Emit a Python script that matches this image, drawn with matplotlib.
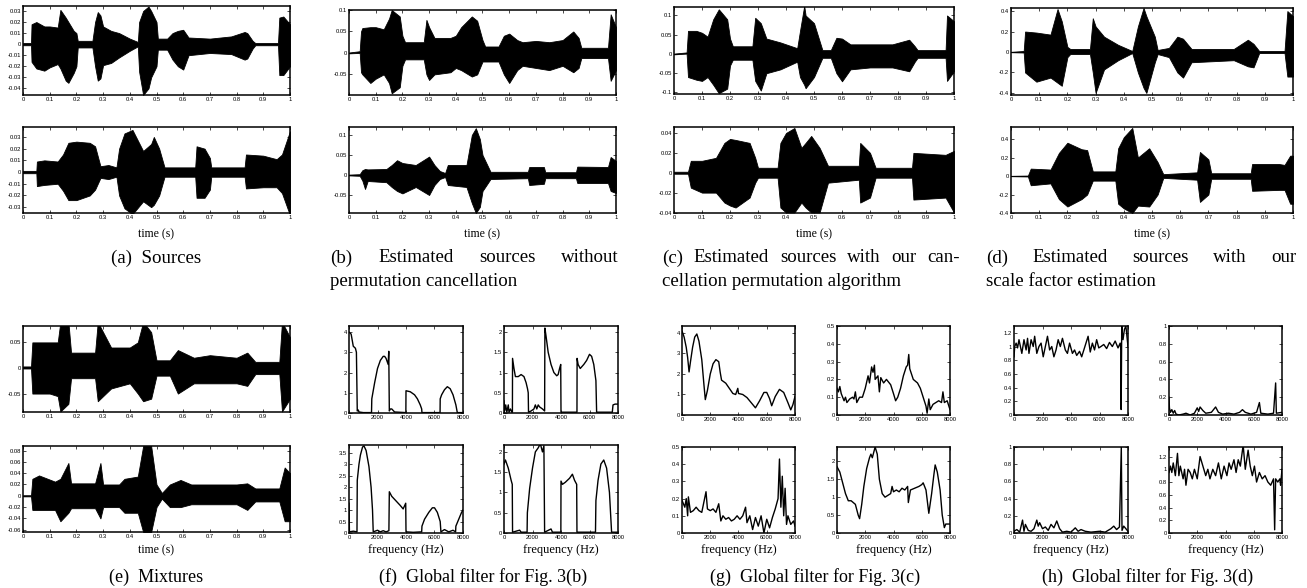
import numpy as np
import matplotlib
matplotlib.use("Agg")
import matplotlib.pyplot as plt

plt.rcParams['font.family'] = ['Liberation Sans', 'DejaVu Sans']
plt.rcParams['axes.unicode_minus'] = False

W, H = 1307, 588

# ---------------- data: waveform envelopes (time, upper, lower) ----------------
A1_ENV = [(0.00, 0.001, -0.001), (0.03, 0.001, -0.001), (0.032, 0.018, -0.016), (0.05, 0.020, -0.022),
          (0.08, 0.016, -0.024), (0.10, 0.016, -0.021), (0.13, 0.015, -0.018), (0.14, 0.031, -0.022),
          (0.16, 0.024, -0.033), (0.17, 0.020, -0.035), (0.19, 0.012, -0.026), (0.20, 0.010, -0.020),
          (0.205, 0.003, -0.003), (0.26, 0.003, -0.003), (0.27, 0.020, -0.020), (0.28, 0.029, -0.033),
          (0.29, 0.026, -0.031), (0.30, 0.016, -0.019), (0.33, 0.012, -0.017), (0.36, 0.010, -0.012),
          (0.40, 0.005, -0.006), (0.43, 0.002, -0.002), (0.435, 0.020, -0.025), (0.45, 0.030, -0.046),
          (0.47, 0.034, -0.040), (0.48, 0.030, -0.030), (0.50, 0.020, -0.020), (0.505, 0.005, -0.005),
          (0.54, 0.005, -0.005), (0.56, 0.010, -0.014), (0.58, 0.012, -0.020), (0.60, 0.013, -0.023),
          (0.62, 0.006, -0.010), (0.70, 0.005, -0.008), (0.78, 0.007, -0.009), (0.83, 0.011, -0.014),
          (0.84, 0.010, -0.013), (0.86, 0.003, -0.004), (0.87, 0.001, -0.001), (0.955, 0.001, -0.001),
          (0.96, 0.024, -0.028), (0.975, 0.025, -0.028), (1.00, 0.018, -0.020)]
A2_ENV = [(0, 0.001, -0.001), (0.05, 0.001, -0.001), (0.052, 0.009, -0.012), (0.08, 0.010, -0.011),
          (0.13, 0.009, -0.010), (0.15, 0.015, -0.016), (0.17, 0.025, -0.024), (0.20, 0.026, -0.024),
          (0.25, 0.025, -0.020), (0.27, 0.022, -0.015), (0.29, 0.005, -0.005), (0.32, 0.006, -0.006),
          (0.35, 0.004, -0.004), (0.36, 0.020, -0.020), (0.38, 0.033, -0.031), (0.41, 0.036, -0.036),
          (0.45, 0.018, -0.025), (0.48, 0.024, -0.030), (0.49, 0.030, -0.028), (0.51, 0.020, -0.020),
          (0.53, 0.004, -0.004), (0.645, 0.004, -0.004), (0.65, 0.022, -0.022), (0.68, 0.020, -0.022),
          (0.70, 0.012, -0.015), (0.705, 0.004, -0.004), (0.83, 0.004, -0.004), (0.835, 0.015, -0.014),
          (0.90, 0.014, -0.013), (0.95, 0.011, -0.013), (0.97, 0.015, -0.018), (1.00, 0.035, -0.037)]
B1_ENV = [(0, 0.001, -0.001), (0.04, 0.004, 0.000), (0.045, 0.05, -0.045), (0.05, 0.058, -0.05),
          (0.08, 0.06, -0.07), (0.10, 0.06, -0.06), (0.13, 0.055, -0.05), (0.15, 0.08, -0.07),
          (0.16, 0.10, -0.094), (0.19, 0.085, -0.08), (0.20, 0.04, -0.03), (0.21, 0.025, -0.015),
          (0.28, 0.025, -0.015), (0.29, 0.077, -0.05), (0.30, 0.06, -0.063), (0.32, 0.035, -0.05),
          (0.38, 0.035, -0.045), (0.40, 0.04, -0.035), (0.42, 0.06, -0.04), (0.46, 0.085, -0.055),
          (0.48, 0.075, -0.05), (0.50, 0.03, -0.02), (0.51, 0.015, -0.02), (0.56, 0.015, -0.02),
          (0.58, 0.04, -0.05), (0.60, 0.045, -0.07), (0.63, 0.03, -0.04), (0.65, 0.025, -0.03),
          (0.70, 0.028, -0.035), (0.75, 0.025, -0.04), (0.80, 0.03, -0.03), (0.84, 0.05, -0.045),
          (0.86, 0.035, -0.035), (0.87, 0.012, -0.012), (0.97, 0.012, -0.012), (0.98, 0.09, -0.065),
          (1.00, 0.06, -0.04)]
B2_ENV = [(0, 0.001, -0.001), (0.04, 0.002, -0.002), (0.05, 0.012, -0.014), (0.06, 0.015, -0.035),
          (0.07, 0.014, -0.015), (0.14, 0.015, -0.018), (0.16, 0.025, -0.03), (0.18, 0.037, -0.04),
          (0.20, 0.03, -0.046), (0.25, 0.025, -0.03), (0.30, 0.046, -0.05), (0.32, 0.025, -0.025),
          (0.34, 0.01, -0.01), (0.36, 0.005, -0.005), (0.37, 0.025, -0.025), (0.44, 0.025, -0.03),
          (0.46, 0.10, -0.07), (0.475, 0.117, -0.095), (0.49, 0.09, -0.08), (0.50, 0.05, -0.04),
          (0.53, 0.008, -0.01), (0.67, 0.008, -0.008), (0.675, 0.02, -0.025), (0.73, 0.02, -0.022),
          (0.735, 0.007, -0.008), (0.85, 0.007, -0.008), (0.855, 0.021, -0.02), (0.97, 0.02, -0.02),
          (0.98, 0.045, -0.04), (1.00, 0.035, -0.045)]
C1_ENV = [(0, 0.001, -0.001), (0.045, 0.004, 0.001), (0.05, 0.06, -0.06), (0.08, 0.06, -0.067),
          (0.10, 0.055, -0.07), (0.12, 0.045, -0.06), (0.14, 0.09, -0.08), (0.16, 0.116, -0.102),
          (0.19, 0.09, -0.09), (0.20, 0.04, -0.03), (0.21, 0.02, -0.015), (0.28, 0.02, -0.015),
          (0.29, 0.094, -0.07), (0.31, 0.08, -0.095), (0.33, 0.04, -0.05), (0.38, 0.03, -0.04),
          (0.44, 0.015, -0.02), (0.45, 0.06, -0.06), (0.465, 0.125, -0.08), (0.47, 0.10, -0.089),
          (0.50, 0.08, -0.06), (0.53, 0.01, -0.01), (0.56, 0.01, -0.01), (0.58, 0.042, -0.05),
          (0.60, 0.04, -0.071), (0.63, 0.025, -0.04), (0.70, 0.025, -0.035), (0.78, 0.025, -0.035),
          (0.84, 0.037, -0.045), (0.86, 0.02, -0.02), (0.87, 0.01, -0.01), (0.97, 0.01, -0.01),
          (0.975, 0.1, -0.07), (1.00, 0.085, -0.045)]
C2_ENV = [(0, 0.001, -0.001), (0.05, 0.001, -0.001), (0.06, 0.012, -0.015), (0.10, 0.012, -0.02),
          (0.15, 0.015, -0.02), (0.18, 0.03, -0.03), (0.20, 0.034, -0.033), (0.22, 0.033, -0.035),
          (0.27, 0.03, -0.025), (0.29, 0.015, -0.01), (0.30, 0.005, -0.005), (0.37, 0.005, -0.005),
          (0.38, 0.03, -0.035), (0.40, 0.04, -0.04), (0.43, 0.045, -0.04), (0.455, 0.025, -0.03),
          (0.47, 0.03, -0.035), (0.49, 0.037, -0.04), (0.52, 0.025, -0.04), (0.55, 0.007, -0.01),
          (0.66, 0.007, -0.007), (0.665, 0.03, -0.03), (0.70, 0.02, -0.025), (0.72, 0.005, -0.005),
          (0.85, 0.005, -0.005), (0.855, 0.02, -0.027), (0.97, 0.018, -0.025), (1.00, 0.022, -0.04)]
D1_ENV = [(0, 0.002, -0.002), (0.045, 0.01, -0.005), (0.05, 0.2, -0.2), (0.09, 0.19, -0.29),
          (0.14, 0.17, -0.25), (0.165, 0.42, -0.3), (0.18, 0.3, -0.33), (0.20, 0.05, -0.05),
          (0.21, 0.03, -0.02), (0.28, 0.03, -0.02), (0.29, 0.33, -0.2), (0.30, 0.25, -0.4),
          (0.33, 0.15, -0.17), (0.38, 0.07, -0.08), (0.43, 0.01, -0.01), (0.45, 0.25, -0.2),
          (0.47, 0.43, -0.35), (0.48, 0.35, -0.4), (0.51, 0.15, -0.1), (0.52, 0.02, -0.02),
          (0.56, 0.04, -0.05), (0.59, 0.15, -0.2), (0.61, 0.13, -0.25), (0.64, 0.03, -0.1),
          (0.79, 0.03, -0.08), (0.84, 0.12, -0.14), (0.86, 0.08, -0.15), (0.88, 0.01, -0.01),
          (0.97, 0.01, -0.01), (0.98, 0.4, -0.24), (1.00, 0.35, -0.24)]
D2_ENV = [(0, 0.002, -0.002), (0.06, 0.005, -0.005), (0.07, 0.08, -0.1), (0.14, 0.07, -0.08),
          (0.17, 0.25, -0.25), (0.20, 0.36, -0.33), (0.25, 0.29, -0.25), (0.27, 0.28, -0.2),
          (0.29, 0.05, -0.05), (0.37, 0.05, -0.05), (0.38, 0.3, -0.3), (0.40, 0.42, -0.35),
          (0.43, 0.52, -0.4), (0.45, 0.2, -0.32), (0.49, 0.3, -0.33), (0.52, 0.15, -0.2),
          (0.54, 0.02, -0.02), (0.66, 0.04, -0.04), (0.67, 0.26, -0.28), (0.70, 0.18, -0.2),
          (0.71, 0.03, -0.03), (0.85, 0.03, -0.03), (0.855, 0.13, -0.16), (0.95, 0.13, -0.15),
          (0.97, 0.12, -0.15), (0.99, 0.22, -0.3), (1.00, 0.22, -0.3)]
E1_ENV = [(0, 0.003, -0.001), (0.03, 0.003, -0.001), (0.035, 0.05, -0.05), (0.10, 0.05, -0.05),
          (0.13, 0.05, -0.055), (0.14, 0.09, -0.085), (0.17, 0.09, -0.07), (0.18, 0.03, -0.02),
          (0.27, 0.03, -0.02), (0.28, 0.09, -0.065), (0.31, 0.06, -0.05), (0.33, 0.04, -0.04),
          (0.40, 0.04, -0.03), (0.43, 0.05, -0.05), (0.45, 0.09, -0.065), (0.48, 0.07, -0.06),
          (0.50, 0.015, -0.015), (0.55, 0.015, -0.015), (0.58, 0.035, -0.05), (0.64, 0.02, -0.03),
          (0.70, 0.025, -0.03), (0.80, 0.02, -0.03), (0.84, 0.03, -0.035), (0.87, 0.012, -0.012),
          (0.96, 0.012, -0.012), (0.97, 0.09, -0.085), (1.00, 0.06, -0.06)]
E2_ENV = [(0, 0.001, -0.001), (0.03, 0.001, -0.001), (0.035, 0.03, -0.025), (0.06, 0.036, -0.025),
          (0.12, 0.025, -0.025), (0.14, 0.03, -0.045), (0.17, 0.058, -0.03), (0.18, 0.022, -0.022),
          (0.27, 0.022, -0.022), (0.29, 0.058, -0.04), (0.30, 0.02, -0.02), (0.36, 0.02, -0.02),
          (0.38, 0.03, -0.03), (0.43, 0.034, -0.03), (0.45, 0.088, -0.064), (0.48, 0.088, -0.064),
          (0.50, 0.02, -0.02), (0.52, 0.005, -0.005), (0.55, 0.02, -0.02), (0.59, 0.028, -0.02),
          (0.63, 0.02, -0.015), (0.80, 0.02, -0.015), (0.84, 0.022, -0.025), (0.87, 0.013, -0.01),
          (0.96, 0.013, -0.01), (0.98, 0.05, -0.045), (1.00, 0.04, -0.045)]

# ---------------- data: global filter magnitudes (frequency Hz, value) ----------------
F1 = [(0, 4.0), (150, 3.9), (300, 3.3), (450, 3.2), (520, 3.0), (580, 0.1), (650, 0.15), (700, 0.05),
      (1000, 0.02), (1580, 0.02), (1600, 0.7), (1800, 1.5), (2000, 2.2), (2200, 2.6), (2400, 2.8),
      (2500, 2.8), (2600, 2.7), (2750, 2.4), (2790, 3.05), (2830, 0.1), (2900, 0.2), (3000, 0.2),
      (3200, 0.05), (3990, 0.02), (4000, 1.1), (4300, 1.05), (4600, 0.9), (4800, 0.7), (5000, 0.4),
      (5100, 0.2), (5120, 0.02), (6390, 0.02), (6400, 0.7), (6500, 0.9), (6700, 1.15), (6900, 1.3),
      (7100, 1.2), (7300, 0.9), (7500, 0.4), (7600, 0.02), (8000, 0.02)]
F2 = [(0, 0.3), (50, 0.05), (120, 0.2), (200, 0.02), (300, 0.2), (350, 0.02), (450, 0.1), (550, 0.02),
      (590, 0.02), (600, 1.35), (700, 1.1), (800, 0.9), (1000, 0.9), (1200, 0.95), (1400, 0.9),
      (1550, 0.75), (1650, 0.6), (1700, 0.5), (1720, 0.02), (1900, 0.05), (2100, 0.1), (2200, 0.2),
      (2300, 0.1), (2400, 0.2), (2500, 0.15), (2700, 0.1), (2850, 0.05), (2870, 2.1), (2950, 1.9),
      (3100, 1.5), (3300, 1.2), (3500, 1.0), (3700, 0.92), (3800, 0.95), (3900, 1.1), (3980, 1.2),
      (4000, 0.02), (5120, 0.02), (5130, 1.35), (5200, 1.2), (5350, 1.1), (5600, 1.2), (5800, 1.3),
      (6000, 1.45), (6150, 1.4), (6300, 1.2), (6450, 0.8), (6500, 0.02), (7600, 0.02), (7650, 0.2),
      (7800, 0.22), (8000, 0.22)]
F3 = [(0, 1.3), (30, 0.05), (300, 0.08), (560, 0.05), (580, 2.3), (700, 3.0), (800, 3.4), (950, 3.75),
      (1050, 3.8), (1200, 3.6), (1400, 2.9), (1550, 2.0), (1650, 1.0), (1700, 0.05), (2000, 0.12),
      (2200, 0.05), (2400, 0.1), (2600, 0.05), (2800, 0.1), (2830, 1.8), (3000, 1.6), (3300, 1.4),
      (3600, 1.2), (3800, 1.05), (3980, 1.3), (4000, 0.05), (4500, 0.03), (5100, 0.05), (5120, 0.3),
      (5300, 0.6), (5600, 0.9), (5850, 1.1), (6000, 1.1), (6200, 0.9), (6400, 0.5), (6450, 0.05),
      (6700, 0.15), (7000, 0.05), (7300, 0.12), (7480, 0.05), (7500, 0.3), (7700, 0.6), (7900, 0.9),
      (8000, 1.0)]
F4 = [(0, 1.7), (100, 1.8), (300, 1.6), (500, 1.3), (580, 1.2), (600, 0.02), (1100, 0.07), (1200, 0.02),
      (1620, 0.02), (1640, 0.5), (1800, 1.1), (2000, 1.6), (2200, 2.0), (2400, 2.1), (2550, 2.2),
      (2700, 2.0), (2800, 2.15), (2850, 0.02), (3300, 0.1), (3400, 0.02), (3990, 0.02), (4000, 1.28),
      (4100, 1.2), (4300, 1.25), (4600, 1.35), (4800, 1.45), (4950, 1.3), (5100, 1.2), (5120, 0.02),
      (6420, 0.02), (6450, 0.8), (6600, 1.3), (6800, 1.7), (7000, 1.8), (7200, 1.6), (7400, 1.0),
      (7550, 0.02), (8000, 0.02)]
G1 = [(0, 4.1), (150, 3.8), (300, 3.3), (400, 2.8), (500, 2.1), (600, 2.6), (750, 3.3), (900, 3.8),
      (1050, 3.95), (1200, 3.6), (1400, 2.7), (1550, 1.5), (1650, 0.75), (1800, 1.2), (2000, 2.0),
      (2200, 2.5), (2400, 2.7), (2600, 2.6), (2700, 2.1), (2800, 1.7), (3100, 1.55), (3300, 1.35),
      (3600, 1.05), (3800, 1.0), (3950, 1.3), (4000, 1.05), (4300, 1.0), (4600, 0.85), (4900, 0.6),
      (5200, 0.35), (5500, 0.7), (5800, 1.1), (6000, 1.1), (6200, 0.8), (6350, 0.45), (6600, 0.9),
      (6900, 1.25), (7200, 1.1), (7500, 0.6), (7700, 0.25), (7850, 0.5), (8000, 0.9)]
G2 = [(0, 0.15), (100, 0.13), (200, 0.16), (300, 0.12), (500, 0.08), (600, 0.1), (700, 0.07), (900, 0.09),
      (1100, 0.1), (1200, 0.09), (1300, 0.13), (1400, 0.07), (1600, 0.1), (1800, 0.1), (2000, 0.15),
      (2200, 0.22), (2300, 0.18), (2450, 0.27), (2550, 0.24), (2650, 0.28), (2700, 0.2), (2900, 0.22),
      (3000, 0.13), (3100, 0.21), (3300, 0.18), (3500, 0.2), (3800, 0.17), (4000, 0.12), (4150, 0.08),
      (4300, 0.1), (4500, 0.15), (4700, 0.22), (4900, 0.27), (5000, 0.28), (5080, 0.34), (5150, 0.26),
      (5400, 0.2), (5700, 0.18), (5900, 0.15), (6100, 0.1), (6300, 0.05), (6380, 0.01), (6500, 0.09),
      (6600, 0.03), (6800, 0.06), (7000, 0.07), (7200, 0.08), (7400, 0.07), (7500, 0.13), (7600, 0.07),
      (7800, 0.08), (8000, 0.03)]
G3 = [(0, 0.19), (100, 0.17), (200, 0.15), (300, 0.2), (400, 0.1), (450, 0.21), (600, 0.12), (800, 0.13),
      (1000, 0.15), (1200, 0.13), (1400, 0.12), (1700, 0.24), (1800, 0.14), (2000, 0.13), (2200, 0.14),
      (2400, 0.12), (2600, 0.17), (2750, 0.07), (2900, 0.1), (3100, 0.08), (3300, 0.09), (3500, 0.07),
      (3700, 0.08), (3900, 0.1), (4100, 0.08), (4300, 0.1), (4500, 0.15), (4600, 0.06), (4800, 0.1),
      (5000, 0.02), (5200, 0.09), (5400, 0.04), (5600, 0.1), (5800, 0.0), (6000, 0.08), (6200, 0.03),
      (6400, 0.09), (6600, 0.14), (6800, 0.2), (6900, 0.43), (7000, 0.15), (7100, 0.33), (7200, 0.1),
      (7300, 0.26), (7400, 0.05), (7500, 0.1), (7700, 0.05), (7900, 0.07), (8000, 0.04)]
G4 = [(0, 1.85), (200, 1.7), (400, 1.4), (600, 1.1), (800, 0.9), (1000, 0.9), (1300, 0.8), (1500, 0.5),
      (1600, 0.4), (1750, 0.8), (1900, 1.3), (2100, 1.8), (2300, 2.1), (2400, 2.2), (2500, 2.1),
      (2700, 2.4), (2850, 2.2), (3000, 1.5), (3200, 1.1), (3400, 1.0), (3600, 1.05), (3800, 1.1),
      (3900, 1.3), (4000, 1.15), (4200, 1.2), (4400, 1.15), (4600, 1.25), (4800, 1.2), (5000, 1.3),
      (5050, 0.85), (5200, 1.2), (5500, 1.25), (5800, 1.3), (6000, 1.35), (6100, 1.4), (6300, 1.2),
      (6500, 0.55), (6700, 1.1), (6850, 1.6), (6950, 1.9), (7100, 1.7), (7300, 1.2), (7450, 0.5),
      (7600, 0.15), (7700, 0.25), (8000, 0.25)]
H1 = [(0, 0.85), (50, 1.0), (150, 1.05), (250, 0.98), (350, 1.1), (450, 1.0), (550, 0.9), (700, 1.1),
      (850, 0.95), (950, 1.12), (1050, 0.9), (1200, 1.1), (1350, 1.0), (1450, 1.15), (1600, 0.9),
      (1750, 1.0), (1900, 1.05), (2050, 0.85), (2200, 1.0), (2350, 1.15), (2500, 0.95), (2650, 1.0),
      (2800, 0.85), (2950, 0.95), (3100, 1.1), (3250, 1.0), (3400, 1.12), (3600, 0.95), (3750, 0.9),
      (3900, 1.05), (4100, 0.9), (4250, 0.95), (4400, 0.87), (4600, 0.93), (4750, 0.85), (4900, 0.95),
      (5050, 1.05), (5200, 1.15), (5350, 0.92), (5500, 1.05), (5650, 0.95), (5800, 1.1), (5950, 0.98),
      (6100, 1.0), (6300, 1.03), (6500, 0.97), (6700, 1.06), (6900, 1.0), (7100, 1.08), (7300, 0.98),
      (7450, 1.05), (7500, 0.95), (7520, 0.08), (7560, 1.3), (7650, 1.1), (7750, 1.25), (7850, 1.3),
      (8000, 1.0)]
H2 = [(0, 0.2), (30, 0.08), (100, 0.03), (200, 0.06), (300, 0.02), (400, 0.05), (500, 0.01), (700, 0.0),
      (1000, 0.01), (1200, 0.02), (1500, 0.0), (1800, 0.02), (2000, 0.08), (2100, 0.04), (2200, 0.09),
      (2400, 0.05), (2600, 0.02), (3000, 0.03), (3300, 0.09), (3500, 0.03), (3800, 0.01), (4200, 0.02),
      (4600, 0.01), (5000, 0.03), (5200, 0.06), (5400, 0.03), (5800, 0.01), (6200, 0.03), (6400, 0.14),
      (6500, 0.02), (7000, 0.01), (7400, 0.02), (7550, 0.36), (7600, 0.02), (8000, 0.03)]
H3 = [(0, 0.02), (200, 0.04), (400, 0.01), (600, 0.15), (700, 0.02), (800, 0.1), (1000, 0.03),
      (1200, 0.02), (1400, 0.05), (1600, 0.15), (1700, 0.08), (1800, 0.12), (2000, 0.05), (2200, 0.07),
      (2400, 0.03), (2600, 0.1), (2800, 0.06), (3000, 0.14), (3200, 0.05), (3400, 0.01), (3700, 0.02),
      (4000, 0.01), (4300, 0.06), (4500, 0.02), (4700, 0.04), (5000, 0.02), (5400, 0.01), (6000, 0.02),
      (6400, 0.01), (6800, 0.05), (7000, 0.08), (7200, 0.04), (7400, 0.07), (7530, 1.0), (7580, 0.03),
      (7700, 0.08), (8000, 0.02)]
H4 = [(0, 0.95), (100, 1.05), (200, 0.95), (300, 1.1), (450, 0.9), (600, 1.25), (700, 0.9), (800, 1.05),
      (1000, 0.85), (1100, 1.0), (1200, 0.75), (1350, 1.0), (1500, 0.95), (1650, 0.85), (1800, 1.0),
      (2000, 0.85), (2200, 1.2), (2400, 1.05), (2600, 0.9), (2750, 1.0), (2900, 0.85), (3100, 1.0),
      (3300, 0.9), (3500, 1.1), (3700, 0.85), (3900, 1.05), (4100, 0.9), (4250, 1.1), (4400, 1.0),
      (4600, 1.15), (4750, 0.95), (4900, 1.15), (5050, 1.05), (5250, 1.38), (5400, 1.0), (5600, 1.3),
      (5750, 1.05), (5900, 0.9), (6050, 1.05), (6200, 0.8), (6400, 0.95), (6600, 0.85), (6800, 0.9),
      (7000, 0.8), (7200, 0.75), (7400, 0.85), (7480, 0.05), (7550, 0.85), (7700, 0.8), (7850, 0.85),
      (7900, 0.75), (8000, 1.0)]

TIME_TICKS = [0, 0.1, 0.2, 0.3, 0.4, 0.5, 0.6, 0.7, 0.8, 0.9, 1]
TIME_LABELS = ['0', '0.1', '0.2', '0.3', '0.4', '0.5', '0.6', '0.7', '0.8', '0.9', '1']
FREQ_TICKS = [0, 2000, 4000, 6000, 8000]

CAPTIONS_TOP = [
    ("(a)  Sources", None),
    ("(b) Estimated sources without", "permutation cancellation"),
    ("(c) Estimated sources with our can-", "cellation permutation algorithm"),
    ("(d) Estimated sources with our", "scale factor estimation"),
]
CAPTIONS_BOTTOM = ["(e)  Mixtures", "(f)  Global filter for Fig. 3(b)",
                   "(g)  Global filter for Fig. 3(c)", "(h)  Global filter for Fig. 3(d)"]

fig = plt.figure(figsize=(W / 100, H / 100), dpi=100)
SERIF = ['Liberation Serif', 'DejaVu Serif']


def ax_px(l, t, r, b):
    return fig.add_axes([l / W, 1 - b / H, (r - l) / W, (b - t) / H])


def style(ax):
    for s in ax.spines.values():
        s.set_linewidth(1.1)
    ax.tick_params(direction='in', length=2.0, width=0.5, top=True, right=True,
                   labelsize=4.2, pad=1.5)


def wave(box, env, ylim, yticks, ylabels):
    ax = ax_px(*box)
    t = [p[0] for p in env]
    up = [p[1] for p in env]
    lo = [p[2] for p in env]
    ax.fill_between(t, lo, up, color='black', linewidth=0.6, edgecolor='black')
    ax.set_xlim(0, 1)
    ax.set_ylim(*ylim)
    ax.set_xticks(TIME_TICKS)
    ax.set_xticklabels(TIME_LABELS)
    ax.set_yticks(yticks)
    ax.set_yticklabels(ylabels)
    style(ax)
    return ax


def filt(box, data, ylim, yticks, ylabels):
    ax = ax_px(*box)
    ax.plot([p[0] for p in data], [p[1] for p in data], color='black', lw=1.0)
    ax.set_xlim(0, 8000)
    ax.set_ylim(*ylim)
    ax.set_xticks(FREQ_TICKS)
    ax.set_xticklabels([str(v) for v in FREQ_TICKS])
    ax.set_yticks(yticks)
    ax.set_yticklabels(ylabels)
    style(ax)
    return ax


def fmt(vals):
    return [('%g' % v) for v in vals]

# ---- top row ----
t1 = [-0.04, -0.03, -0.02, -0.01, 0, 0.01, 0.02, 0.03]
wave((23, 6, 290, 95), A1_ENV, (-0.046, 0.0345), t1, fmt(t1))
t2 = [-0.03, -0.02, -0.01, 0, 0.01, 0.02, 0.03]
wave((23, 127, 290, 213), A2_ENV, (-0.035, 0.0385), t2, fmt(t2))
t3 = [-0.05, 0, 0.05, 0.1]
wave((349, 10, 616, 95), B1_ENV, (-0.098, 0.1), t3, fmt(t3))
wave((349, 127, 616, 213), B2_ENV, (-0.095, 0.12), t3, fmt(t3))
t4 = [-0.1, -0.05, 0, 0.05, 0.1]
wave((674, 7, 954, 94), C1_ENV, (-0.104, 0.122), t4, fmt(t4))
t5 = [-0.04, -0.02, 0, 0.02, 0.04]
wave((674, 127, 954, 213), C2_ENV, (-0.0405, 0.046), t5, fmt(t5))
t6 = [-0.4, -0.2, 0, 0.2, 0.4]
wave((1011, 8, 1293, 95), D1_ENV, (-0.42, 0.43), t6, fmt(t6))
wave((1011, 127, 1293, 213), D2_ENV, (-0.4, 0.53), t6, fmt(t6))

# ---- bottom row ----
t7 = [-0.05, 0, 0.05]
wave((23, 326, 290, 412), E1_ENV, (-0.086, 0.082), t7, fmt(t7))
t8 = [-0.06, -0.04, -0.02, 0, 0.02, 0.04, 0.06, 0.08]
wave((23, 446, 290, 532), E2_ENV, (-0.064, 0.088), t8, fmt(t8))

filt((349, 326, 463, 413), F1, (0, 4.3), [0, 1, 2, 3, 4], fmt([0, 1, 2, 3, 4]))
filt((504, 326, 618, 413), F2, (0, 2.15), [0, 0.5, 1, 1.5, 2], fmt([0, 0.5, 1, 1.5, 2]))
y = [0, 0.5, 1, 1.5, 2, 2.5, 3, 3.5]
filt((349, 445, 463, 533), F3, (0, 3.84), y, fmt(y))
filt((504, 445, 618, 533), F4, (0, 2.17), [0, 0.5, 1, 1.5, 2], fmt([0, 0.5, 1, 1.5, 2]))

filt((682, 326, 795, 415), G1, (0, 4.34), [0, 1, 2, 3, 4], fmt([0, 1, 2, 3, 4]))
y = [0, 0.1, 0.2, 0.3, 0.4, 0.5]
filt((837, 326, 950, 415), G2, (0, 0.5), y, fmt(y))
filt((682, 447, 795, 533), G3, (0, 0.5), y, fmt(y))
filt((837, 447, 950, 533), G4, (0, 2.4), [0, 0.5, 1, 1.5, 2], fmt([0, 0.5, 1, 1.5, 2]))

y = [0, 0.2, 0.4, 0.6, 0.8, 1, 1.2]
filt((1014, 326, 1128, 415), H1, (0, 1.3), y, fmt(y))
y2 = [0, 0.2, 0.4, 0.6, 0.8, 1]
filt((1169, 326, 1282, 415), H2, (0, 1.0), y2, fmt(y2))
filt((1014, 447, 1128, 533), H3, (0, 1.0), y2, fmt(y2))
filt((1169, 447, 1282, 533), H4, (0, 1.35), y, fmt(y))

# ---- axis labels ----
for cx in [156.5, 482.5, 814, 1152]:
    fig.text(cx / W, 1 - 234 / H, 'time (s)', ha='center', va='center', fontsize=8.5, family=SERIF)
fig.text(156.5 / W, 1 - 550 / H, 'time (s)', ha='center', va='center', fontsize=8.5, family=SERIF)
for cx in [406, 561, 738.5, 893.5, 1071, 1225.5]:
    fig.text(cx / W, 1 - 550 / H, 'frequency (Hz)', ha='center', va='center', fontsize=9, family=SERIF)

# ---- captions ----
renderer = fig.canvas.get_renderer()
CAP_FS = 13
CAP_FS_TOP = 13.6


def justify(text, x0, x1, yc):
    words = text.split()
    objs = [fig.text(0, 1 - yc / H, w, ha='left', va='center', fontsize=CAP_FS_TOP, family=SERIF)
            for w in words]
    widths = [o.get_window_extent(renderer).width for o in objs]
    gap = (x1 - x0 - sum(widths)) / (len(words) - 1)
    x = x0
    for o, w in zip(objs, widths):
        o.set_x(x / W)
        x += w + gap


fig.text(156 / W, 1 - 258 / H, CAPTIONS_TOP[0][0], ha='center', va='center', fontsize=CAP_FS_TOP, family=SERIF)
for (l1, l2), (x0, x1) in zip(CAPTIONS_TOP[1:], [(330, 619), (662, 960), (986, 1296)]):
    justify(l1, x0, x1, 258)
    fig.text(x0 / W, 1 - 282 / H, l2, ha='left', va='center', fontsize=CAP_FS_TOP, family=SERIF)

for txt, cx in zip(CAPTIONS_BOTTOM, [156, 483, 815, 1148]):
    fig.text(cx / W, 1 - 577 / H, txt, ha='center', va='center', fontsize=CAP_FS, family=SERIF)

fig.savefig('out.png', dpi=100)
